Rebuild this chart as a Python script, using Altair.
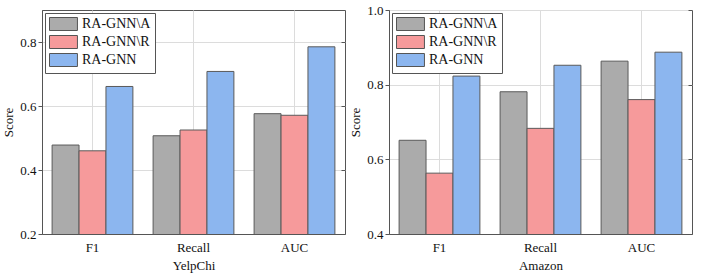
import altair as alt
import pandas as pd

metrics = ["F1", "Recall", "AUC"]
models = ["RA-GNN\\A", "RA-GNN\\R", "RA-GNN"]
colors = ["#ababab", "#f69a9b", "#8cb6ef"]

yelp_a = [0.478, 0.507, 0.576]
yelp_r = [0.460, 0.525, 0.571]
yelp_full = [0.661, 0.708, 0.785]

amazon_a = [0.651, 0.781, 0.863]
amazon_r = [0.563, 0.683, 0.760]
amazon_full = [0.823, 0.852, 0.887]

yelp_ticks = [0.2, 0.4, 0.6, 0.8]
amazon_ticks = [0.4, 0.6, 0.8, 1.0]

FONT = "Liberation Serif"
W, H = 303, 224


def frame(a, r, full):
    rows = []
    for i, m in enumerate(metrics):
        rows.append({"metric": m, "model": models[0], "score": a[i]})
        rows.append({"metric": m, "model": models[1], "score": r[i]})
        rows.append({"metric": m, "model": models[2], "score": full[i]})
    return pd.DataFrame(rows)


def panel(df, dom, ticks, title):
    xscale = alt.Scale(domain=metrics, paddingInner=0.2, paddingOuter=0.1)
    yscale = alt.Scale(domain=dom, nice=False, zero=False)
    bars = alt.Chart(df).mark_bar(stroke="#5a5a5a", strokeWidth=1, clip=True).encode(
        x=alt.X("metric:N", scale=xscale, title=title,
                axis=alt.Axis(labelAngle=0, ticks=False, labelPadding=7,
                              grid=True, gridColor="#dcdcdc", bandPosition=0.5,
                              domainColor="#555", titlePadding=5)),
        xOffset=alt.XOffset("model:N", sort=models,
                            scale=alt.Scale(domain=models, paddingInner=0, paddingOuter=0)),
        y=alt.Y("score:Q", scale=yscale, title="Score",
                axis=alt.Axis(values=ticks, format=".1f", tickSize=4, tickColor="#555",
                              grid=True, gridColor="#dcdcdc", domainColor="#555",
                              labelPadding=2, titlePadding=4)),
        color=alt.Color("model:N", sort=models,
                        scale=alt.Scale(domain=models, range=colors),
                        legend=alt.Legend(title=None, orient="top-left", offset=3,
                                          strokeColor="#555", fillColor="white",
                                          padding=4, symbolType="M-1,-1H3.3V1H-1Z",
                                          symbolSize=169, symbolStrokeColor="#555",
                                          symbolStrokeWidth=1, symbolOpacity=1,
                                          labelFont=FONT, labelFontSize=14,
                                          labelColor="#111", rowPadding=0,
                                          labelOffset=19)),
    )
    ghost = alt.Chart(df).mark_bar(opacity=0, clip=True).encode(
        x=alt.X("metric:N", scale=xscale,
                axis=alt.Axis(orient="top", offset=-H, labels=False, domain=False,
                              grid=False, tickSize=4, tickColor="#555", bandPosition=0.5,
                              title=None)),
        xOffset=alt.XOffset("model:N", sort=models),
        y=alt.Y("score:Q", scale=yscale,
                axis=alt.Axis(orient="left", offset=-W, values=ticks, labels=False,
                              domain=False, grid=False, tickSize=4, tickColor="#555",
                              title=None)),
    )
    return alt.layer(bars, ghost).resolve_axis(x="independent", y="independent").properties(
        width=W, height=H
    )


left = panel(frame(yelp_a, yelp_r, yelp_full), [0.2, 0.9], yelp_ticks, "YelpChi")
right = panel(frame(amazon_a, amazon_r, amazon_full), [0.4, 1.0], amazon_ticks, "Amazon")

chart = alt.hconcat(left, right, spacing=3).resolve_scale(color="independent").properties(
    padding={"left": 2, "top": 3, "right": 5, "bottom": 0}
).configure(font=FONT).configure_view(stroke="#555", strokeWidth=1).configure_axis(
    labelFont=FONT, titleFont=FONT, labelFontSize=13, titleFontSize=13,
    titleFontWeight="normal", labelColor="#111", titleColor="#111"
)

chart.save("out.html", embed_options={"renderer": "svg", "actions": False})
